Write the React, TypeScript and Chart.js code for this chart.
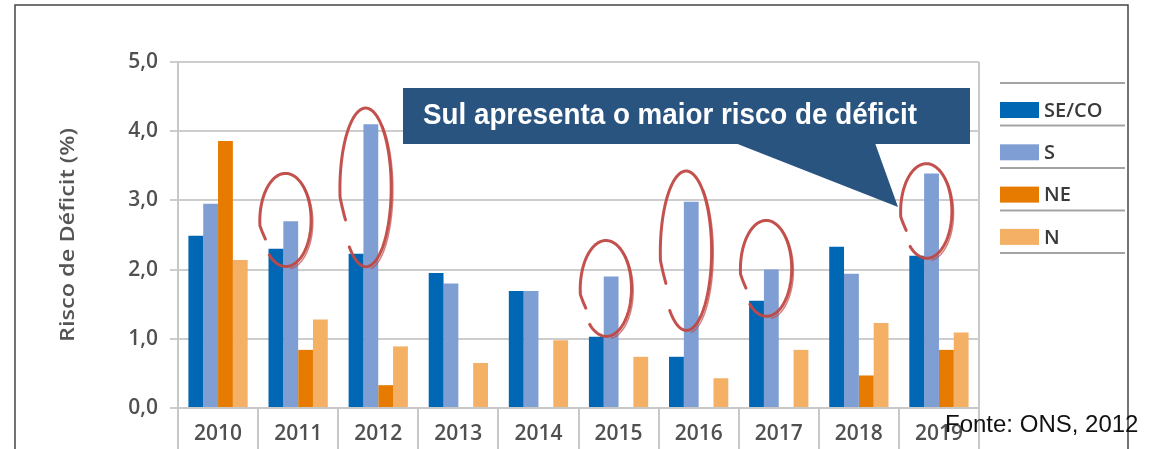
import React, { useEffect, useRef } from 'react';
import { Chart, registerables } from 'chart.js';

Chart.register(...registerables);

// ---- data ----
const years = ['2010', '2011', '2012', '2013', '2014', '2015', '2016', '2017', '2018', '2019'];
const seriesLabels = ['SE/CO', 'S', 'NE', 'N'];
const secoValues = [2.49, 2.30, 2.23, 1.95, 1.69, 1.03, 0.74, 1.55, 2.33, 2.20];
const sulValues = [2.95, 2.70, 4.10, 1.80, 1.69, 1.90, 2.98, 2.00, 1.94, 3.39];
const neValues = [3.86, 0.84, 0.33, 0, 0, 0, 0, 0, 0.47, 0.84];
const norteValues = [2.14, 1.28, 0.89, 0.65, 0.98, 0.74, 0.43, 0.84, 1.23, 1.09];
const seriesColors = ['#0067b4', '#7f9ed4', '#e77b00', '#f4b064'];
const yTickLabels = ['0,0', '1,0', '2,0', '3,0', '4,0', '5,0'];
const yAxisTitle = 'Risco de Déficit (%)';
const calloutText = 'Sul apresenta o maior risco de déficit';
const sourceText = 'Fonte: ONS, 2012';
// hand-drawn highlight circles (year, top value, bottom value)
const circledYears = ['2011', '2012', '2015', '2016', '2017', '2019'];
const circleTop = [3.40, 4.35, 2.43, 3.44, 2.72, 3.54];
const circleBottom = [2.02, 2.00, 1.01, 1.08, 1.30, 2.14];

const FONT = '"Open Sans", "Noto Sans", sans-serif';

function drawHandEllipse(ctx: CanvasRenderingContext2D, cx: number, cy: number, rx: number, ry: number) {
  const start = Math.PI - 0.4;
  const sweep = Math.PI * 2 - 0.45;
  const pass = (dx: number, dy: number, scaleEnd: number, width: number, alpha: number, from: number, to: number) => {
    ctx.save();
    ctx.strokeStyle = `rgba(192,72,68,${alpha})`;
    ctx.lineWidth = width;
    ctx.lineCap = 'round';
    ctx.lineJoin = 'round';
    ctx.beginPath();
    const n = 120;
    for (let i = 0; i <= n; i++) {
      const f = from + (to - from) * (i / n);
      const t = start + sweep * f;
      const k = 1 + (scaleEnd - 1) * f;
      let rX = rx * k;
      const rY = ry * k;
      if (f < 0.05) {
        rX *= 0.85 + 0.15 * (f / 0.05);
      }
      const x = cx + dx + rX * Math.cos(t);
      const y = cy + dy + rY * Math.sin(t);
      if (i === 0) ctx.moveTo(x, y);
      else ctx.lineTo(x, y);
    }
    ctx.stroke();
    ctx.restore();
  };
  pass(0, 0, 0.96, 3, 0.95, 0, 1);
  pass(1.5, 2, 0.97, 1.5, 0.7, 0.45, 0.85);
}

const decorPlugin = {
  id: 'decor',
  afterDraw(chart: any) {
    const ctx: CanvasRenderingContext2D = chart.ctx;
    const ys = chart.scales.y;
    const area = chart.chartArea;

    // y axis title (stretched to match the original lettering)
    ctx.save();
    ctx.translate(67, (area.top + area.bottom) / 2);
    ctx.rotate(-Math.PI / 2);
    ctx.font = `600 20px ${FONT}`;
    ctx.fillStyle = '#555';
    ctx.textAlign = 'center';
    ctx.textBaseline = 'middle';
    const tw = ctx.measureText(yAxisTitle).width;
    ctx.scale(214 / tw, 1);
    ctx.fillText(yAxisTitle, 0, 1);
    ctx.restore();

    // highlight circles around the S bars
    const sMeta = chart.getDatasetMeta(1);
    circledYears.forEach((yr, i) => {
      const idx = years.indexOf(yr);
      const bar = sMeta.data[idx];
      const cx = bar.x - 5;
      const top = ys.getPixelForValue(circleTop[i]);
      const bottom = ys.getPixelForValue(circleBottom[i]);
      drawHandEllipse(ctx, cx, (top + bottom) / 2, 26, (bottom - top) / 2);
    });

    // callout box
    ctx.save();
    ctx.fillStyle = '#2a5480';
    const bx = area.left + 225;
    const by = area.top + 26;
    const bw = 567;
    const bh = 56;
    ctx.fillRect(bx, by, bw, bh);
    ctx.beginPath();
    ctx.moveTo(bx + 332, by + bh - 1);
    ctx.lineTo(bx + 472, by + bh - 1);
    ctx.lineTo(bx + 495, by + 119);
    ctx.closePath();
    ctx.fill();
    ctx.fillStyle = '#ffffff';
    ctx.font = 'bold 30px "Liberation Sans", Arial, sans-serif';
    ctx.textBaseline = 'alphabetic';
    ctx.textAlign = 'left';
    ctx.fillText(calloutText, bx + 20, by + 36, 494);
    ctx.restore();

    // legend
    ctx.save();
    const lx = area.right + 21;
    const lw = 125;
    ctx.strokeStyle = '#a3a3a3';
    ctx.lineWidth = 2;
    for (let i = 0; i <= seriesLabels.length; i++) {
      const y = 83 + i * 42.5;
      ctx.beginPath();
      ctx.moveTo(lx, y);
      ctx.lineTo(lx + lw, y);
      ctx.stroke();
    }
    chart.data.datasets.forEach((ds: any, i: number) => {
      const c = 110 + i * 42.3;
      ctx.fillStyle = ds.backgroundColor;
      ctx.fillRect(lx, c - 8, 39, 16);
      ctx.fillStyle = '#3a3a3a';
      ctx.font = `600 20px ${FONT}`;
      ctx.textBaseline = 'middle';
      ctx.textAlign = 'left';
      ctx.fillText(ds.label, lx + 44, c + 1);
    });
    ctx.restore();

    // outer frame
    ctx.save();
    ctx.strokeStyle = '#444';
    ctx.lineWidth = 1.5;
    ctx.strokeRect(15, 5, 1113, 470);
    ctx.restore();

    // source
    ctx.save();
    ctx.fillStyle = '#111';
    ctx.font = '24px "Liberation Sans", Arial, sans-serif';
    ctx.textBaseline = 'alphabetic';
    ctx.textAlign = 'left';
    ctx.fillText(sourceText, 945, 432);
    ctx.restore();
  },
};

export default function App() {
  const ref = useRef<HTMLCanvasElement | null>(null);

  useEffect(() => {
    if (!ref.current) return;
    const values = [secoValues, sulValues, neValues, norteValues];
    const chart = new Chart(ref.current, {
      type: 'bar',
      data: {
        labels: years,
        datasets: seriesLabels.map((label, i) => ({
          label,
          data: values[i],
          backgroundColor: seriesColors[i],
          borderWidth: 0,
          categoryPercentage: 0.74,
          barPercentage: 1.0,
        })),
      },
      options: {
        responsive: false,
        animation: false,
        layout: { padding: { left: 0, top: 62, right: 170, bottom: 0 } },
        plugins: {
          legend: { display: false },
          tooltip: { enabled: false },
        },
        scales: {
          x: {
            grid: {
              offset: true,
              drawOnChartArea: true,
              color: (c: any) => (c.index === undefined ? '#c8c8c8' : 'rgba(0,0,0,0)'),
              tickColor: '#c8c8c8',
              tickLength: 41,
              lineWidth: 2,
            },
            border: { display: true, color: '#c8c8c8', width: 2 },
            ticks: {
              color: '#505050',
              font: { family: FONT, size: 21, weight: '600' },
              padding: -28,
              maxRotation: 0,
              autoSkip: false,
            },
            afterFit: (s: any) => {
              s.height = 41;
            },
          },
          y: {
            min: 0,
            max: 5,
            ticks: {
              stepSize: 1,
              callback: (_v: any, i: number) => yTickLabels[i],
              color: '#505050',
              font: { family: FONT, size: 21, weight: '600' },
              padding: 12,
            },
            grid: { color: '#cdcdcd', lineWidth: 2, tickLength: 8, tickColor: '#cdcdcd' },
            border: { display: true, color: '#c8c8c8', width: 2 },
            title: { display: false },
            afterFit: (s: any) => {
              s.width = 178;
            },
          },
        },
      },
      plugins: [decorPlugin],
    });
    return () => chart.destroy();
  }, []);

  return (
    <div style={{ position: 'absolute', left: 0, top: 0, width: 1149, height: 449, background: '#fff' }}>
      <canvas ref={ref} width={1149} height={449} style={{ width: 1149, height: 449, display: 'block' }} />
    </div>
  );
}
